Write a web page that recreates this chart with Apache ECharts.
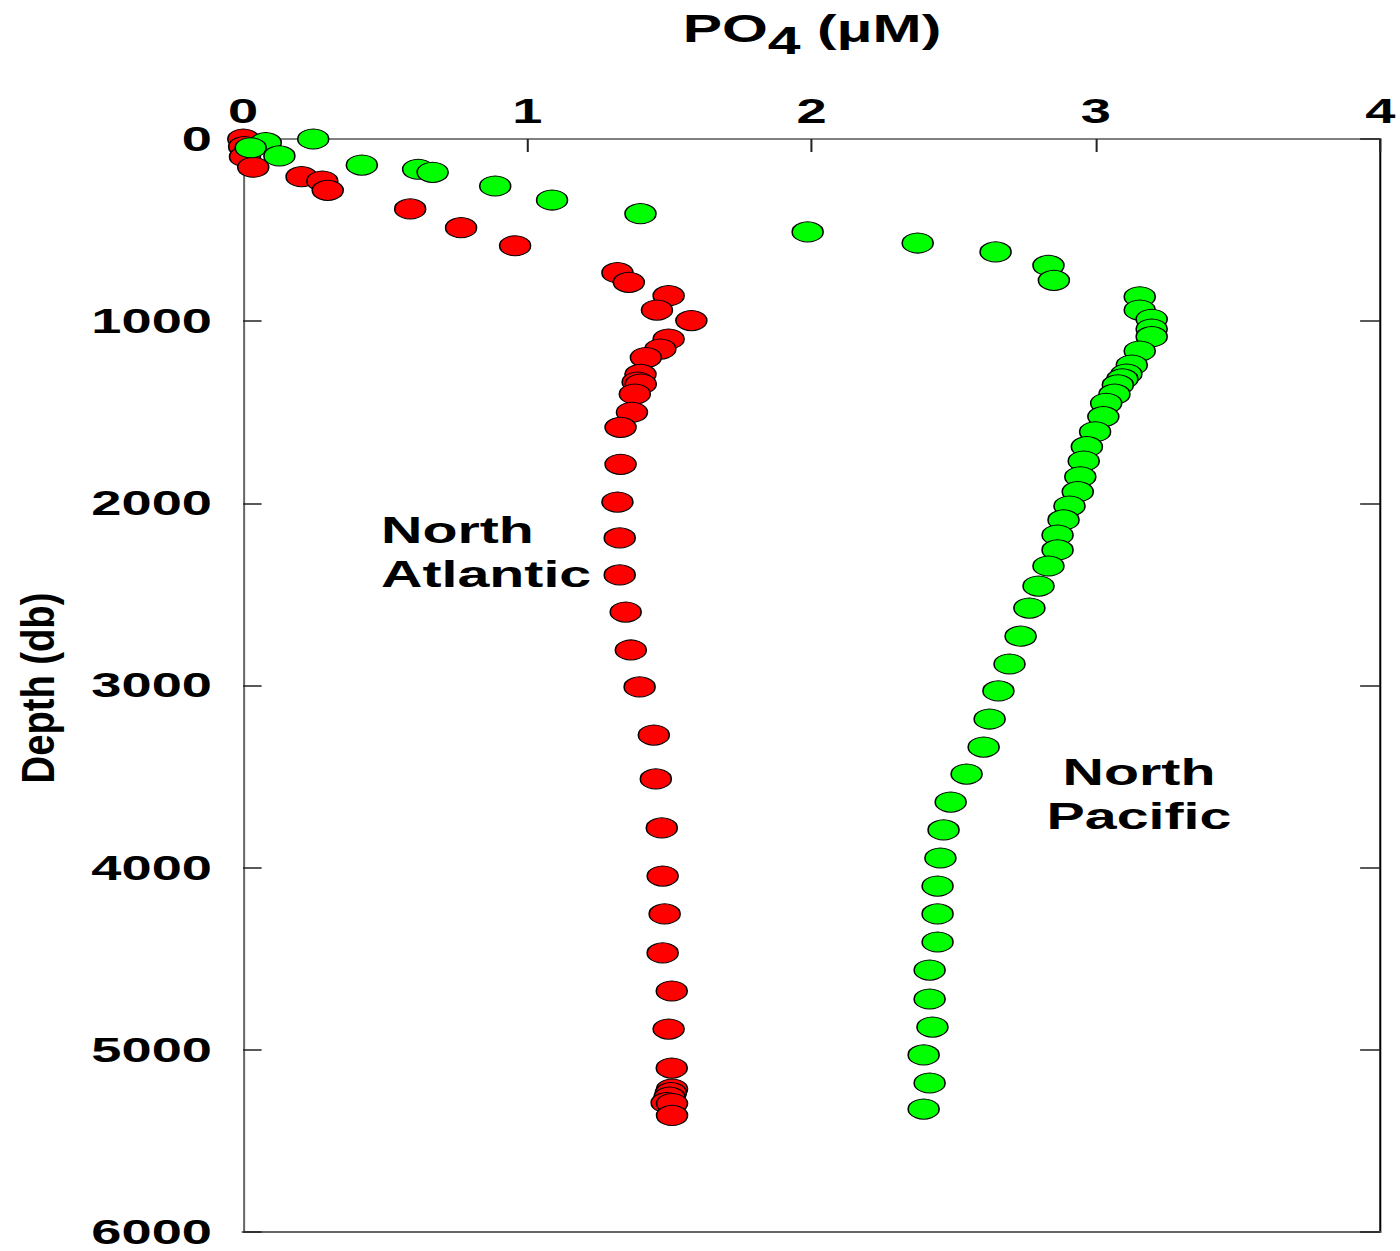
<!DOCTYPE html>
<html>
<head>
<meta charset="utf-8">
<script src="https://cdn.jsdelivr.net/npm/echarts/dist/echarts.min.js"></script>
<style>
html,body{margin:0;padding:0;background:#fff;overflow:hidden;width:1400px;height:1251px;}
#chart{position:absolute;left:0;top:0;height:1251px;transform-origin:0 0;}
</style>
</head>
<body>
<div id="chart"></div>
<script>
// ---- data ----
const xTickLabels = ['0', '1', '2', '3', '4'];
const yTickLabels = ['0', '1000', '2000', '3000', '4000', '5000', '6000'];

const atlanticPO4 = [0.001, 0.004, 0.007, 0.036, 0.206, 0.279, 0.298, 0.588, 0.767, 0.957,
  1.317, 1.357, 1.497, 1.456, 1.577, 1.497, 1.468, 1.417, 1.398, 1.388, 1.399, 1.378,
  1.368, 1.328, 1.328, 1.317, 1.325, 1.325, 1.346, 1.364, 1.395, 1.445, 1.452, 1.473,
  1.476, 1.483, 1.476, 1.508, 1.497, 1.508, 1.509, 1.505, 1.500, 1.490, 1.509, 1.509];
const atlanticDepth = [0, 42, 97, 155, 207, 231, 282, 384, 487, 586,
  734, 787, 860, 939, 997, 1098, 1153, 1200, 1292, 1334, 1345, 1400,
  1500, 1583, 1786, 1993, 2190, 2393, 2597, 2805, 3008, 3272, 3513, 3782,
  4046, 4254, 4468, 4677, 4886, 5100, 5215, 5235, 5260, 5290, 5295, 5360];

const pacificPO4 = [0.247, 0.080, 0.027, 0.128, 0.418, 0.616, 0.667, 0.887, 1.087, 1.398,
  1.986, 2.373, 2.647, 2.833, 2.852, 3.154, 3.154, 3.196, 3.196, 3.196, 3.154, 3.126,
  3.107, 3.093, 3.077, 3.065, 3.036, 3.026, 2.997, 2.968, 2.957, 2.945, 2.936, 2.907,
  2.886, 2.865, 2.865, 2.833, 2.798, 2.766, 2.735, 2.696, 2.657, 2.626, 2.605, 2.545,
  2.489, 2.464, 2.453, 2.443, 2.443, 2.443, 2.415, 2.415, 2.425, 2.394, 2.415, 2.394];
const pacificDepth = [0, 20, 48, 93, 143, 166, 183, 258, 335, 410,
  510, 571, 620, 694, 776, 866, 939, 990, 1043, 1085, 1164, 1241,
  1290, 1317, 1350, 1401, 1451, 1524, 1607, 1689, 1768, 1854, 1936, 2015,
  2091, 2174, 2256, 2344, 2454, 2575, 2729, 2882, 3030, 3184, 3338, 3486,
  3640, 3793, 3947, 4101, 4254, 4408, 4562, 4721, 4875, 5028, 5182, 5325];

// ---- layout: the reference is horizontally stretched ----
const SX = 1.55;
const W = 1400 / SX;
const el = document.getElementById('chart');
el.style.width = W + 'px';
el.style.transform = 'scaleX(' + SX + ')';

const gridLeft = 243 / SX, gridRight = W - 1381 / SX, gridTop = 139, gridBottom = 1251 - 1232;
const plotCenterX = (243 + 1381) / 2 / SX;

const pair = (xs, ys) => xs.map((v, i) => [v, ys[i]]);
const labelFont = { fontFamily: 'Liberation Sans', fontWeight: 'bold', fontSize: 35, color: '#000' };
const titleFont = { fontFamily: 'Liberation Sans', fontWeight: 'bold', fontSize: 38, color: '#000' };

const chart = echarts.init(el, null, { renderer: 'svg', width: W, height: 1251 });
chart.setOption({
  animation: false,
  backgroundColor: '#fff',
  grid: { left: gridLeft, right: gridRight, top: gridTop, bottom: gridBottom, containLabel: false },
  xAxis: [
    {
      type: 'value', position: 'top', min: 0, max: 4, interval: 1,
      axisLine: { show: true, onZero: false, lineStyle: { color: '#808080', width: 2 } },
      axisTick: { show: true, inside: true, length: 13, lineStyle: { color: '#222', width: 1.3 } },
      axisLabel: Object.assign({ margin: 10, formatter: (v) => xTickLabels[Math.round(v)] }, labelFont),
      splitLine: { show: false }
    },
    {
      type: 'value', position: 'bottom', min: 0, max: 4, interval: 1,
      axisLine: { show: true, onZero: false, lineStyle: { color: '#666', width: 2 } },
      axisTick: { show: false }, axisLabel: { show: false }, splitLine: { show: false }
    }
  ],
  yAxis: [
    {
      type: 'value', position: 'left', inverse: true, min: 0, max: 6000, interval: 1000,
      axisLine: { show: true, onZero: false, lineStyle: { color: '#666', width: 1.3 } },
      axisTick: { show: true, inside: true, length: 12, lineStyle: { color: '#222', width: 1.5 } },
      axisLabel: Object.assign({ margin: 20, formatter: (v) => yTickLabels[Math.round(v / 1000)] }, labelFont),
      splitLine: { show: false }
    },
    {
      type: 'value', position: 'right', inverse: true, min: 0, max: 6000, interval: 1000,
      axisLine: { show: true, onZero: false, lineStyle: { color: '#000', width: 1.3 } },
      axisTick: { show: true, inside: true, length: 13, lineStyle: { color: '#222', width: 1.5 } },
      axisLabel: { show: false }, splitLine: { show: false }
    }
  ],
  graphic: [
    {
      type: 'text', x: plotCenterX, y: 10, z: 100,
      style: {
        text: '{a|PO}{b|4}{a| (μM)}',
        align: 'center', verticalAlign: 'top',
        rich: {
          a: Object.assign({ lineHeight: 40, verticalAlign: 'top' }, titleFont),
          b: Object.assign({ lineHeight: 40, verticalAlign: 'top', padding: [12, 0, 0, 0] }, titleFont)
        }
      }
    },
    {
      type: 'text', x: 38 / SX, y: 688, rotation: Math.PI / 2, scaleX: 0.83, scaleY: 1 / SX, z: 100,
      style: { text: 'Depth (db)', font: 'bold 46px "Liberation Sans"', fill: '#000', align: 'center', verticalAlign: 'middle' }
    },
    {
      type: 'text', x: 381 / SX, y: 508, z: 100,
      style: { text: 'North\nAtlantic', font: 'bold 37px "Liberation Sans"', fill: '#000', align: 'left', verticalAlign: 'top', lineHeight: 44 }
    },
    {
      type: 'text', x: 1139 / SX, y: 750, z: 100,
      style: { text: 'North\nPacific', font: 'bold 37px "Liberation Sans"', fill: '#000', align: 'center', verticalAlign: 'top', lineHeight: 44 }
    }
  ],
  series: [
    {
      name: 'North Atlantic', type: 'scatter', xAxisIndex: 0, yAxisIndex: 0,
      symbol: 'circle', symbolSize: 20,
      itemStyle: { color: '#ff0000', borderColor: '#000', borderWidth: 1, opacity: 1 },
      data: pair(atlanticPO4, atlanticDepth), z: 2
    },
    {
      name: 'North Pacific', type: 'scatter', xAxisIndex: 0, yAxisIndex: 0,
      symbol: 'circle', symbolSize: 20,
      itemStyle: { color: '#00ff00', borderColor: '#000', borderWidth: 1, opacity: 1 },
      data: pair(pacificPO4, pacificDepth), z: 3
    }
  ]
});
</script>
</body>
</html>
